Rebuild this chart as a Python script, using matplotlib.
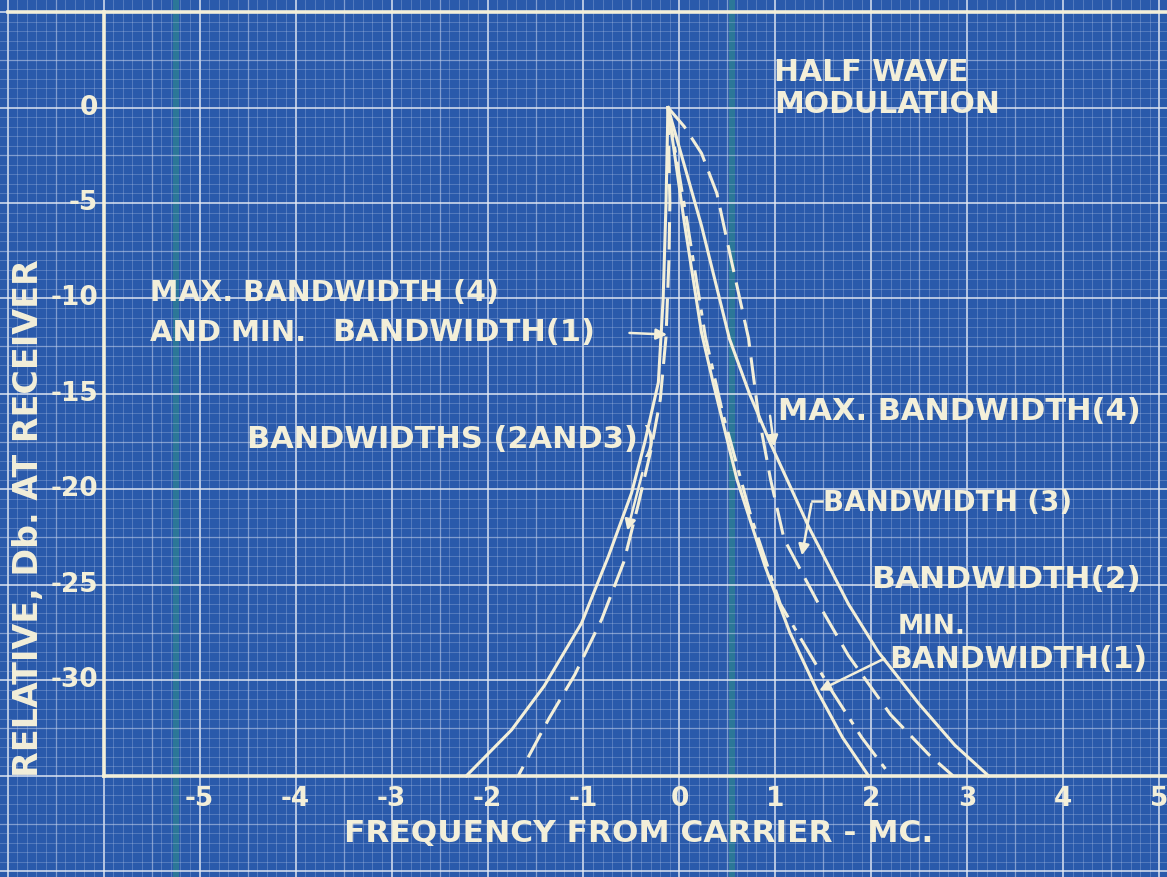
import matplotlib
matplotlib.use("Agg")
import matplotlib.pyplot as plt
import numpy as np

# ---- data (x in MC from carrier, y in dB) ----
left_solid_x = [-0.12, -0.14, -0.17, -0.22, -0.36, -0.50, -0.74, -1.02, -1.41, -1.75, -2.22]
left_solid_y = [0, -5, -10, -14.4, -17.5, -20.2, -23.5, -27, -30.3, -32.6, -35]

left_dash_x = [-0.12, -0.10, -0.11, -0.14, -0.20, -0.30, -0.43, -0.58, -0.81, -1.09, -1.36, -1.68]
left_dash_y = [0, -5, -8, -12, -15.3, -18, -20.8, -23.8, -26.8, -29.7, -32, -35]

bw1_x = [-0.12, 0.05, 0.23, 0.35, 0.60, 0.89, 1.15, 1.43, 1.70, 1.97]
bw1_y = [0, -6, -11.8, -14.4, -19.5, -24, -27.5, -30.5, -33, -35]

bw2_x = [-0.12, 0.08, 0.27, 0.45, 0.75, 1.05, 1.58, 1.90, 2.20]
bw2_y = [0, -6, -12, -16, -21.5, -26, -30.5, -33, -35]

bw3_x = [-0.12, 0.05, 0.23, 0.39, 0.54, 0.72, 0.82, 0.95, 1.09, 1.45, 1.76, 2.20, 2.60, 2.85]
bw3_y = [0, -1, -2.4, -4.5, -8, -12.1, -16, -19.5, -22.6, -26, -28.7, -31.8, -33.9, -35]

bw4_x = [-0.12, 0.23, 0.52, 0.73, 0.94, 1.35, 1.76, 2.07, 2.49, 2.87, 3.22]
bw4_y = [0, -6.2, -12.1, -15.0, -17.5, -22, -26, -28.5, -31.2, -33.4, -35]

xticks = [-5, -4, -3, -2, -1, 0, 1, 2, 3, 4, 5]
yticks = [0, -5, -10, -15, -20, -25, -30]

bg = "#2a5aab"
ink = "#f3efd9"

fig = plt.figure(figsize=(11.67, 8.77), dpi=100)
fig.patch.set_facecolor(bg)
ax = fig.add_axes([0, 0, 1, 1])
ax.set_facecolor(bg)
ax.set_xlim(-7.08, 5.08)
ax.set_ylim(-40.3, 5.63)
ax.axis("off")

# scanning stripes
for sx in (-5.25, 0.55):
    ax.axvspan(sx - 0.03, sx + 0.03, color="#2f8f8a", alpha=0.55, lw=0, zorder=0)

# graph paper grid
for gx in np.arange(-7.0, 5.01, 0.1):
    k = int(round(gx * 10))
    if k % 10 == 0:
        ax.axvline(gx, color="#e6ecf5", lw=1.3, alpha=0.8, zorder=1)
    elif k % 5 == 0:
        ax.axvline(gx, color="#c9d6ee", lw=0.9, alpha=0.55, zorder=1)
    else:
        ax.axvline(gx, color="#b8c9ea", lw=0.6, alpha=0.35, zorder=1)
for gy in np.arange(-40.0, 5.01, 0.5):
    k = int(round(gy * 2))
    if k % 10 == 0:
        ax.axhline(gy, color="#e6ecf5", lw=1.3, alpha=0.8, zorder=1)
    elif k % 5 == 0:
        ax.axhline(gy, color="#c9d6ee", lw=0.9, alpha=0.55, zorder=1)
    else:
        ax.axhline(gy, color="#b8c9ea", lw=0.6, alpha=0.35, zorder=1)

# axes frame
ax.plot([-6, -6], [-35, 5], color=ink, lw=2.6, zorder=3)
ax.plot([-6, 5.1], [-35, -35], color=ink, lw=2.6, zorder=3)
ax.plot([-7.0, 5.1], [5, 5], color=ink, lw=2.6, zorder=3)

# curves
ax.plot(left_solid_x, left_solid_y, color=ink, lw=2.2, zorder=4)
ax.plot(left_dash_x, left_dash_y, color=ink, lw=2.2, dashes=(9, 3.5), zorder=4)
ax.plot(bw1_x, bw1_y, color=ink, lw=2.2, zorder=4)
ax.plot(bw2_x, bw2_y, color=ink, lw=2.2, dashes=(10, 3, 2, 3), zorder=4)
ax.plot(bw3_x, bw3_y, color=ink, lw=2.2, dashes=(9, 3.5), zorder=4)
ax.plot(bw4_x, bw4_y, color=ink, lw=2.2, zorder=4)

font = dict(color=ink, family="DejaVu Sans", fontweight="bold", zorder=5)

for t in yticks:
    ax.text(-6.06, t, str(t), ha="right", va="center", fontsize=19, **font)
for t in xticks:
    ax.text(t, -36.2, str(t), ha="center", va="center", fontsize=19, **font)

ax.text(-0.42, -38.0, "FREQUENCY FROM CARRIER - MC.", ha="center", va="center",
        fontsize=22.5, **font)
ax.text(-6.78, -21.5, "RELATIVE, Db. AT RECEIVER", ha="center", va="center",
        rotation=90, fontsize=24, **font)

ax.text(0.99, 1.0, "HALF WAVE\nMODULATION", ha="left", va="center", fontsize=21.5,
        linespacing=1.1, **font)

ax.text(-5.52, -9.7, "MAX. BANDWIDTH (4)", ha="left", va="center", fontsize=20.5, **font)
ax.text(-5.52, -11.8, "AND MIN.", ha="left", va="center", fontsize=21, **font)
ax.text(-3.62, -11.8, "BANDWIDTH(1)", ha="left", va="center", fontsize=22, **font)
ax.text(-4.51, -17.4, "BANDWIDTHS (2AND3)", ha="left", va="center", fontsize=22, **font)
ax.text(-0.40, -17.5, ")", ha="left", va="center", fontsize=26, color=ink,
        family="DejaVu Sans", zorder=5)
ax.text(1.03, -15.9, "MAX. BANDWIDTH(4)", ha="left", va="center", fontsize=22, **font)
ax.text(1.50, -20.7, "BANDWIDTH (3)", ha="left", va="center", fontsize=20, **font)
ax.text(2.00, -24.7, "BANDWIDTH(2)", ha="left", va="center", fontsize=22.5, **font)
ax.text(2.63, -27.2, "MIN.", ha="center", va="center", fontsize=19, **font)
ax.text(2.19, -28.9, "BANDWIDTH(1)", ha="left", va="center", fontsize=21.5, **font)

arrow = dict(arrowstyle="-|>", color=ink, lw=1.8, mutation_scale=16)
ax.annotate("", xy=(-0.10, -11.9), xytext=(-0.55, -11.8), arrowprops=arrow, zorder=5)
ax.annotate("", xy=(-0.55, -22.3), xytext=(-0.38, -19.0), arrowprops=arrow, zorder=5)
ax.annotate("", xy=(0.99, -17.9), xytext=(0.94, -16.0), arrowprops=arrow, zorder=5)
ax.plot([1.48, 1.38], [-20.6, -20.6], color=ink, lw=1.8, zorder=5)
ax.annotate("", xy=(1.27, -23.6), xytext=(1.38, -20.6), arrowprops=arrow, zorder=5)
ax.annotate("", xy=(1.43, -30.6), xytext=(2.16, -28.8), arrowprops=arrow, zorder=5)

fig.savefig("out.png", dpi=100, facecolor=bg)
